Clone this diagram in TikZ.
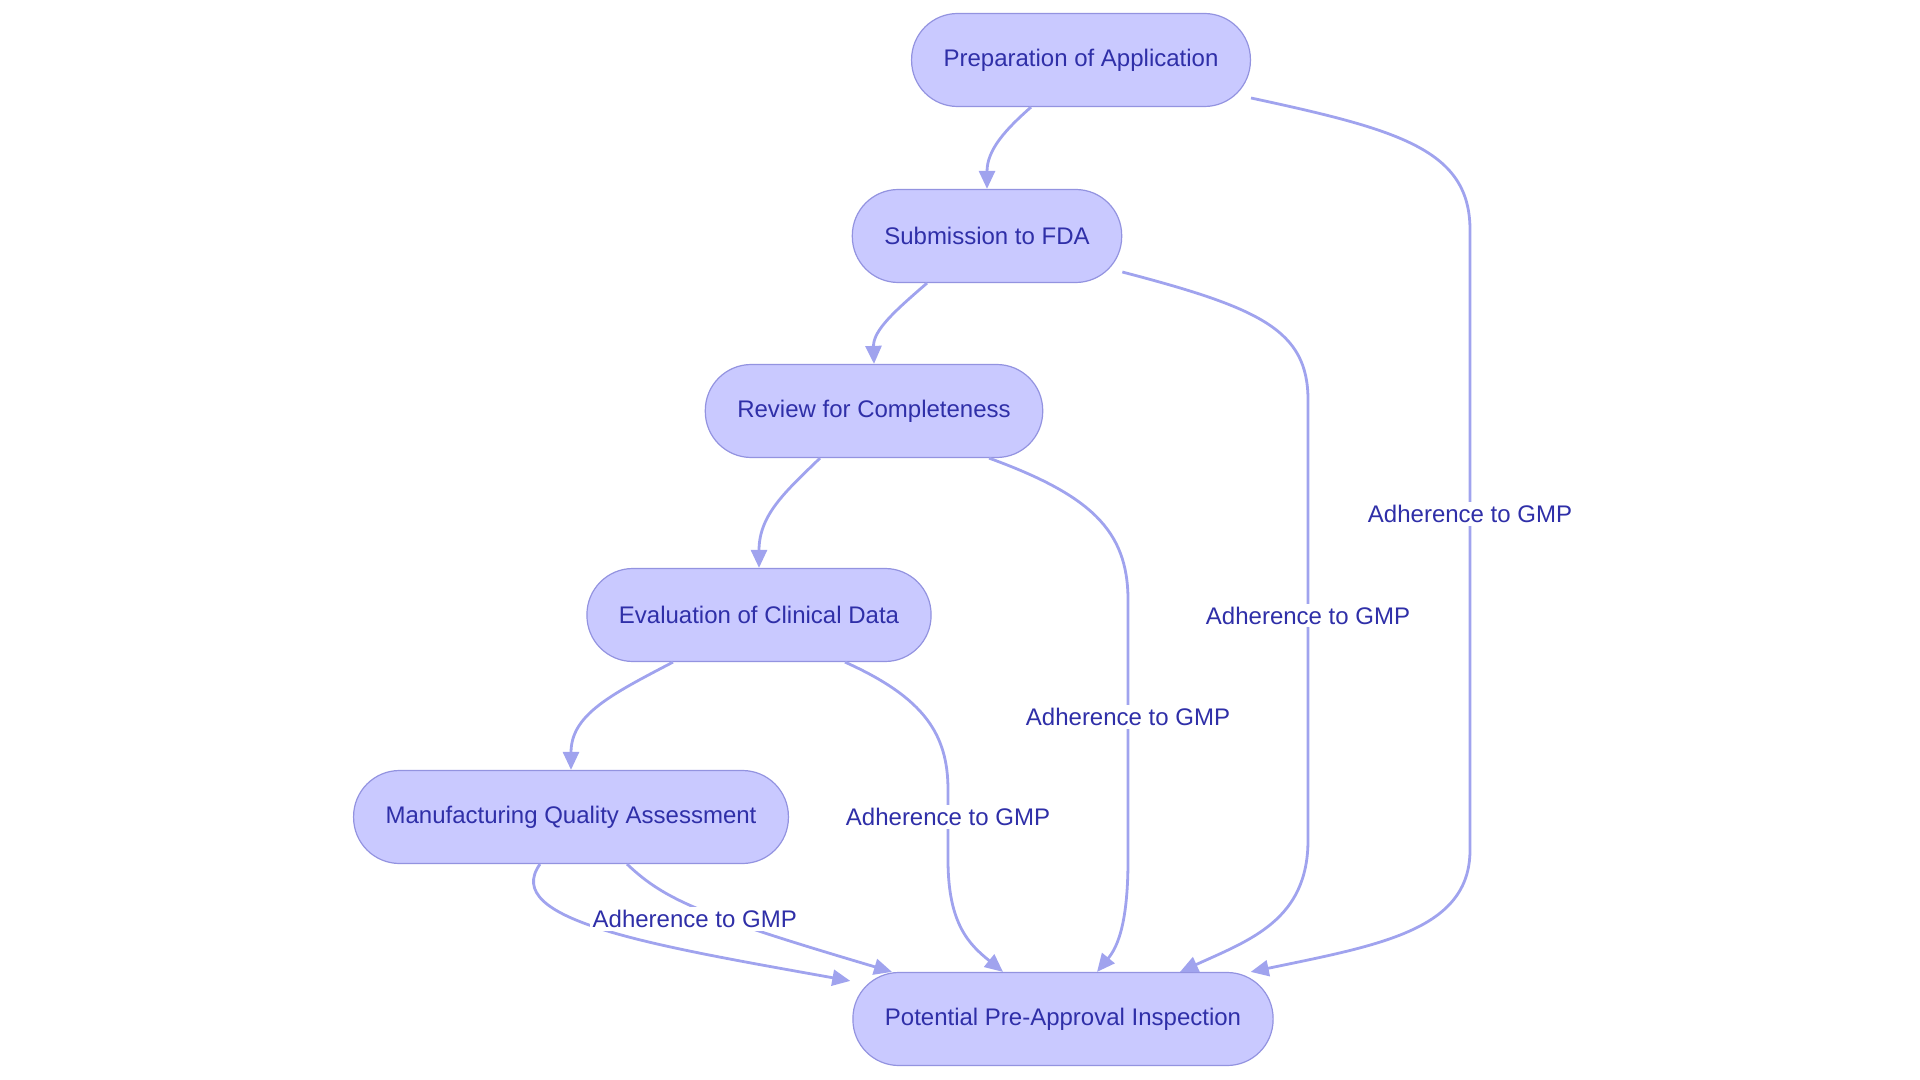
\documentclass[tikz,border=0pt]{standalone}
\usepackage{fontspec}
\setmainfont{Liberation Sans}
\usepackage{xcolor}
\usetikzlibrary{arrows.meta, positioning, calc}
\definecolor{stagefill}{HTML}{C9C9FF}
\definecolor{stageline}{HTML}{9393E0}
\definecolor{stagetext}{HTML}{2F2FA8}
\definecolor{linkline}{HTML}{A0A3EE}
\tikzstyle{stage} = [rectangle, rounded corners=23pt, minimum height=46.5pt, inner xsep=16pt, text centered, draw=stageline, line width=0.6pt, fill=stagefill, text=stagetext, font=\fontsize{12}{14}\selectfont]
\tikzstyle{link} = [line width=1.4pt, draw=linkline, -{Triangle[length=9pt,width=8pt]}]
\tikzstyle{gmp} = [fill=white, text=stagetext, inner sep=1.5pt, font=\fontsize{12}{14}\selectfont]

\begin{document}
\begin{tikzpicture}[x=0.5pt, y=-0.5pt]
\useasboundingbox (0,0) rectangle (1920,1080);
% Stages
\node (prep) [stage] at (1081,60) {Preparation of Application};
\node (submit) [stage] at (987,236) {Submission to FDA};
\node (review) [stage] at (874,411) {Review for Completeness};
\node (clinical) [stage] at (759,615) {Evaluation of Clinical Data};
\node (quality) [stage] at (571,817) {Manufacturing Quality Assessment};
\node (inspect) [stage] at (1063,1019) {Potential Pre-Approval Inspection};

% Main sequence
\draw [link] ($(prep.south)+(-50,0)$) .. controls (1005,130) and (987,150) .. (submit.north);
\draw [link] ($(submit.south)+(-60,0)$) .. controls (896,310) and (873,330) .. (review.north);
\draw [link] ($(review.south)+(-54,0)$) .. controls (785,492) and (759,515) .. (clinical.north);
\draw [link] ($(clinical.south)+(-86,0)$) .. controls (610,695) and (571,715) .. (quality.north);

% GMP links to the inspection
\draw [link] ($(prep.east)+(0,38)$) .. controls (1400,130) and (1470,150) .. (1470,230)
  -- node[gmp, pos=0.458] {Adherence to GMP} (1470,850)
  .. controls (1470,930) and (1380,945) .. ($(inspect.north east)+(-23,0)$);
\draw [link] ($(submit.east)+(0,36)$) .. controls (1260,308) and (1308,330) .. (1308,400)
  -- node[gmp, pos=0.49] {Adherence to GMP} (1308,840)
  .. controls (1308,920) and (1250,940) .. ($(inspect.north)+(117,0)$);
\draw [link] ($(review.south)+(115,0)$) .. controls (1090,495) and (1128,530) .. (1128,600)
  -- node[gmp, pos=0.45] {Adherence to GMP} (1128,860)
  .. controls (1128,930) and (1115,950) .. ($(inspect.north)+(34,0)$);
\draw [link] ($(clinical.south)+(86,0)$) .. controls (925,698) and (948,735) .. (948,790)
  -- node[gmp, pos=0.386] {Adherence to GMP} (948,860)
  .. controls (948,925) and (970,945) .. ($(inspect.north)+(-60,0)$);
\draw [link] ($(quality.south)+(-31,0)$) .. controls (500,920) and (650,945) .. ($(inspect.north west)+(-2,9)$);
\draw [link] ($(quality.south)+(56,0)$) .. controls (665,900) and (700,915) .. ($(inspect.north)+(-171,0)$)
  node[gmp, pos=0.5, xshift=-3.5pt, yshift=-4.5pt] {Adherence to GMP};
\end{tikzpicture}
\end{document}
